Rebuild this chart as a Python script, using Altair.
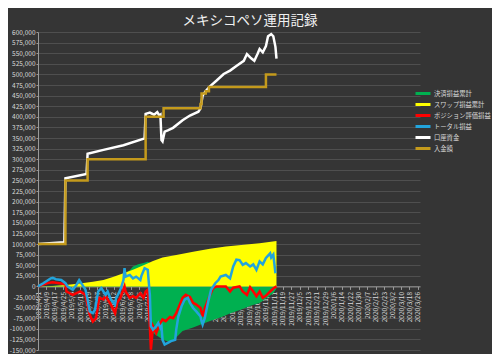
import altair as alt
import pandas as pd

chart_title = "メキシコペソ運用記録"
series_names = ["決済損益累計", "スワップ損益累計", "ポジション評価損益", "トータル損益", "口座資金", "入金額"]
series_colors = ["#00b050", "#ffff00", "#ff0000", "#22a4dc", "#ffffff", "#c49a1c"]

# 決済損益累計 (settled P/L, cumulative)
settled_dates = ["2019-04-01", "2019-05-23", "2019-06-21", "2019-06-27", "2019-06-30", "2019-07-05",
                 "2019-07-10", "2019-07-14", "2019-07-16", "2019-07-17", "2019-07-19", "2019-07-24",
                 "2019-07-28", "2019-08-02", "2019-08-07", "2019-08-12", "2019-08-16", "2019-08-26",
                 "2019-09-04", "2019-09-13", "2019-09-22", "2019-10-01", "2019-10-10", "2019-10-20",
                 "2019-10-28", "2019-11-05", "2019-11-10", "2019-11-13"]
settled_values = [0, 5000, 28000, 38000, 47000, 52000,
                  55000, 58000, 56000, -95000, -110000, -118000,
                  -125000, -130000, -127000, -115000, -105000, -97000,
                  -88000, -80000, -72000, -63000, -55000, -45000,
                  -39000, -25000, -16000, -5000]

# スワップ損益累計 (swap P/L, cumulative)
swap_dates = ["2019-04-01", "2019-04-15", "2019-04-25", "2019-05-04", "2019-05-14", "2019-05-23",
              "2019-06-02", "2019-06-11", "2019-06-21", "2019-06-30", "2019-07-10", "2019-07-19",
              "2019-07-28", "2019-08-10", "2019-08-26", "2019-09-11", "2019-09-26", "2019-10-13",
              "2019-10-28", "2019-11-13"]
swap_values = [0, 1000, 3000, 5000, 8000, 11000,
               15000, 22000, 31000, 39000, 50000, 60000,
               68000, 74000, 82000, 89000, 94000, 98000,
               102000, 107000]

# ポジション評価損益 (open position P/L)
position_dates = ["2019-04-01", "2019-04-10", "2019-04-15", "2019-04-23", "2019-04-27", "2019-04-28",
                  "2019-05-04", "2019-05-11", "2019-05-16", "2019-05-20", "2019-05-23", "2019-05-26",
                  "2019-05-29", "2019-06-02", "2019-06-04", "2019-06-09", "2019-06-13", "2019-06-15",
                  "2019-06-18", "2019-06-22", "2019-06-23", "2019-06-27", "2019-06-30", "2019-07-03",
                  "2019-07-07", "2019-07-10", "2019-07-12", "2019-07-14", "2019-07-16", "2019-07-17",
                  "2019-07-19", "2019-07-22", "2019-07-26", "2019-07-28", "2019-07-31", "2019-08-04",
                  "2019-08-07", "2019-08-10", "2019-08-14", "2019-08-16", "2019-08-19", "2019-08-23",
                  "2019-08-26", "2019-08-29", "2019-09-02", "2019-09-04", "2019-09-06", "2019-09-11",
                  "2019-09-14", "2019-09-17", "2019-09-26", "2019-09-30", "2019-10-03", "2019-10-09",
                  "2019-10-12", "2019-10-16", "2019-10-19", "2019-10-22", "2019-10-25", "2019-10-28",
                  "2019-10-31", "2019-11-03", "2019-11-07", "2019-11-10", "2019-11-13"]
position_values = [0, 8000, 10000, 7000, 5000, -12000,
                   -20000, -12000, -20000, -67000, -83000, -75000,
                   -27000, -31000, -22000, -43000, -63000, -39000,
                   -27000, 0, -12000, -27000, -23000, -27000,
                   -16000, -27000, -12000, -8000, -94000, -149000,
                   -94000, -110000, -86000, -78000, -82000, -72000,
                   -75000, -63000, -39000, -27000, -20000, -25000,
                   -39000, -43000, -51000, -71000, -52000, -20000,
                   -4000, 0, 0, -12000, -3000, 0,
                   -12000, -20000, -2000, -12000, -23000, -12000,
                   -27000, -22000, -12000, -5000, 0]

# トータル損益 (total P/L)
total_dates = ["2019-04-01", "2019-04-06", "2019-04-10", "2019-04-13", "2019-04-15", "2019-04-18",
               "2019-04-23", "2019-04-27", "2019-04-29", "2019-05-04", "2019-05-07", "2019-05-10",
               "2019-05-14", "2019-05-16", "2019-05-18", "2019-05-20", "2019-05-23", "2019-05-25",
               "2019-05-28", "2019-05-31", "2019-06-04", "2019-06-06", "2019-06-09", "2019-06-13",
               "2019-06-14", "2019-06-18", "2019-06-21", "2019-06-22", "2019-06-23", "2019-06-27",
               "2019-06-30", "2019-07-03", "2019-07-07", "2019-07-08", "2019-07-11", "2019-07-14",
               "2019-07-16", "2019-07-17", "2019-07-19", "2019-07-22", "2019-07-24", "2019-07-26",
               "2019-07-27", "2019-07-28", "2019-07-30", "2019-08-02", "2019-08-05", "2019-08-09",
               "2019-08-10", "2019-08-12", "2019-08-15", "2019-08-18", "2019-08-21", "2019-08-23",
               "2019-08-26", "2019-08-29", "2019-09-02", "2019-09-03", "2019-09-04", "2019-09-06",
               "2019-09-09", "2019-09-12", "2019-09-16", "2019-09-19", "2019-09-21", "2019-09-26",
               "2019-09-30", "2019-10-03", "2019-10-06", "2019-10-09", "2019-10-12", "2019-10-15",
               "2019-10-19", "2019-10-22", "2019-10-25", "2019-10-28", "2019-10-31", "2019-11-03",
               "2019-11-07", "2019-11-08", "2019-11-10", "2019-11-12"]
total_values = [0, 7500, 14000, 19000, 20000, 17000,
                15000, 7500, 0, -8000, 2000, 15000,
                0, -8000, -31000, -59000, -63000, -55000,
                -12000, -4000, -20000, -12000, -31000, -43000,
                -28000, -8000, 15000, 43000, 23000, 27000,
                19000, 23000, 15000, 25000, 43000, 39000,
                -20000, -94000, -102000, -94000, -86000, -98000,
                -94000, -126000, -137000, -133000, -129000, -126000,
                -102000, -71000, -47000, -31000, -27000, -39000,
                -51000, -59000, -71000, -82000, -90000, -75000,
                -39000, -8000, 7500, 15000, 23000, 27000,
                19000, 47000, 63000, 62000, 51000, 55000,
                47000, 52000, 39000, 59000, 52000, 67000,
                78000, 68000, 75000, 31000]

# 口座資金 (account balance)
balance_dates = ["2019-04-01", "2019-04-26", "2019-04-27", "2019-05-17", "2019-05-18", "2019-06-02",
                 "2019-06-21", "2019-07-11", "2019-07-12", "2019-07-16", "2019-07-20", "2019-07-23",
                 "2019-07-25", "2019-07-26", "2019-07-27", "2019-07-28", "2019-07-30", "2019-08-02",
                 "2019-08-07", "2019-08-16", "2019-08-23", "2019-08-31", "2019-09-02", "2019-09-04",
                 "2019-09-07", "2019-09-11", "2019-09-17", "2019-09-24", "2019-09-30", "2019-10-06",
                 "2019-10-13", "2019-10-16", "2019-10-20", "2019-10-23", "2019-10-26", "2019-10-28",
                 "2019-10-31", "2019-11-03", "2019-11-05", "2019-11-08", "2019-11-10", "2019-11-12",
                 "2019-11-13"]
balance_values = [100000, 104000, 255000, 265000, 313000, 322000,
                  333000, 349000, 407000, 410000, 405000, 411000,
                  403000, 405000, 345000, 342000, 365000, 368000,
                  374000, 392000, 403000, 412000, 420000, 450000,
                  461000, 472000, 485000, 501000, 509000, 520000,
                  532000, 548000, 538000, 532000, 548000, 560000,
                  552000, 567000, 590000, 595000, 590000, 565000,
                  537000]

# 入金額 (deposits)
deposit_dates = ["2019-04-01", "2019-04-27", "2019-05-18", "2019-07-12", "2019-07-29", "2019-09-02",
                 "2019-09-03", "2019-09-07", "2019-09-10", "2019-11-03", "2019-11-13"]
deposit_values = [100000, 250000, 300000, 400000, 420000, 430000,
                  455000, 460000, 470000, 500000, 500000]

y_ticks = list(range(-150000, 600001, 25000))
tick_dates = pd.date_range("2019-04-01", "2020-03-26", freq="8D")


def frame(dates, values, name):
    return pd.DataFrame({"date": pd.to_datetime(dates), "value": values, "series": name})


font = "Noto Sans CJK JP"
label_color = "#d9d9d9"
axis_color = "#9a9a9a"

x_enc = alt.X(
    "date:T",
    title=None,
    scale=alt.Scale(domain=[alt.DateTime(year=2019, month=4, date=1),
                            alt.DateTime(year=2020, month=3, date=28)]),
    axis=alt.Axis(
        values=[alt.DateTime(year=d.year, month=d.month, date=d.day) for d in tick_dates],
        format="%Y/%-m/%-d", labelAngle=-90, labelFontSize=6.5, labelColor=label_color,
        labelFont=font, domainColor=axis_color, tickColor=axis_color, tickSize=3,
        labelPadding=2, grid=False, offset=-63.6, labelOverlap=False, labelBound=False,
        labelFlush=False,
    ),
)
y_enc = alt.Y(
    "value:Q",
    title=None,
    stack=None,
    scale=alt.Scale(domain=[-150000, 600000], nice=False, zero=False),
    axis=alt.Axis(
        values=y_ticks, format=",d", labelExpr="replace(datum.label, '\u2212', '-')",
        labelFontSize=6.5, labelColor=label_color, labelFont=font,
        domainColor=axis_color, tickColor=axis_color, tickSize=2, labelPadding=1,
        grid=True, gridColor="#ffffff", gridOpacity=0.13, gridWidth=1,
        labelOverlap=False, labelFlush=False,
    ),
)
# line colour scale carries the legend with all six series
line_scale = alt.Scale(domain=series_names, range=series_colors)
# area fill scale only knows the two area series (keeps it from merging with the legend)
fill_scale = alt.Scale(domain=series_names[:2], range=series_colors[:2])
legend = alt.Legend(
    title=None, orient="none", legendX=376, legendY=56, symbolType="stroke",
    symbolSize=225, symbolStrokeWidth=3, labelFontSize=6.3, labelColor=label_color,
    labelFont=font, rowPadding=0, clipHeight=11, labelOffset=2, labelLimit=200,
)

green = alt.Chart(frame(settled_dates, settled_values, series_names[0])).mark_area().encode(
    x=x_enc, y=y_enc, y2=alt.datum(0),
    fill=alt.Fill("series:N", scale=fill_scale, legend=None))
yellow = alt.Chart(frame(swap_dates, swap_values, series_names[1])).mark_area().encode(
    x=x_enc, y=y_enc, y2=alt.datum(0),
    fill=alt.Fill("series:N", scale=fill_scale, legend=None))
red = alt.Chart(frame(position_dates, position_values, series_names[2])).mark_line(strokeWidth=2.5).encode(
    x=x_enc, y=y_enc, color=alt.Color("series:N", scale=line_scale, legend=legend))
blue = alt.Chart(frame(total_dates, total_values, series_names[3])).mark_line(strokeWidth=2.5).encode(
    x=x_enc, y=y_enc, color=alt.Color("series:N", scale=line_scale, legend=legend))
white = alt.Chart(frame(balance_dates, balance_values, series_names[4])).mark_line(strokeWidth=2.5).encode(
    x=x_enc, y=y_enc, color=alt.Color("series:N", scale=line_scale, legend=legend))
gold = alt.Chart(frame(deposit_dates, deposit_values, series_names[5])).mark_line(
    strokeWidth=2.5, interpolate="step-after").encode(
    x=x_enc, y=y_enc, color=alt.Color("series:N", scale=line_scale, legend=legend))

chart = alt.layer(green, yellow, red, blue, white, gold).properties(
    width=382, height=318,
    padding={"left": 30, "top": 24, "right": 72, "bottom": 4},
    autosize=alt.AutoSizeParams(type="none"),
    title=alt.TitleParams(text=chart_title, fontSize=13.5, color="#f0f0f0", font=font,
                          fontWeight="normal", anchor="middle", dx=21, offset=2),
).configure(background="#353535", font=font).configure_view(stroke=None)

chart.save("out.html", embed_options={"renderer": "svg", "actions": False})
